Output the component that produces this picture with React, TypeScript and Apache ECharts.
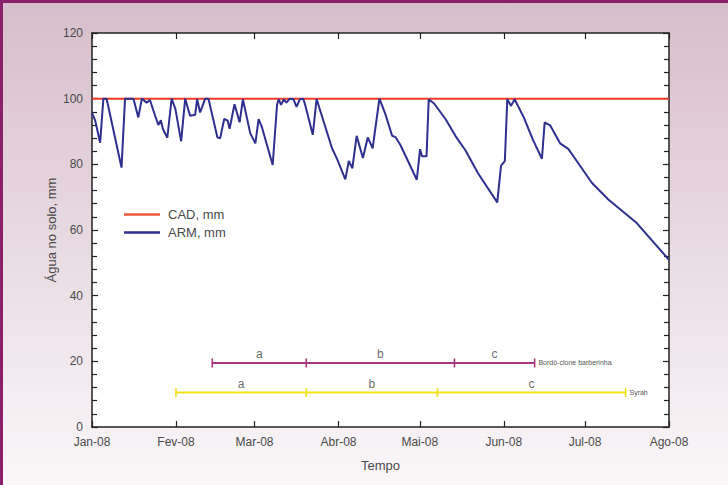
import React, { useEffect, useRef } from "react";
import * as echarts from "echarts";

const monthDays = [0, 31, 60, 91, 121, 152, 182, 213];
const monthLabels = ["Jan-08", "Fev-08", "Mar-08", "Abr-08", "Mai-08", "Jun-08", "Jul-08", "Ago-08"];

const cadDays = [0, 213];
const cadValues = [100, 100];

const armDays = [0, 1.2, 3, 4.2, 5.4, 10.9, 12.2, 15.3, 17.1, 18.4, 20.2, 21.4, 23.3, 24.5, 25.4, 26.2, 27.8, 29.4, 30.8, 32.9, 34.4, 36.2, 38.1, 38.8, 39.9, 41.8, 43, 46.3, 47.3, 48.8, 50.1, 50.8, 52.6, 54.5, 55.7, 58.4, 60.3, 61.5, 62.7, 66.7, 68.3, 68.9, 69.8, 70.8, 71.8, 73, 74.4, 75.5, 76.7, 78, 78.8, 81.5, 82.9, 88.6, 90.5, 93.5, 94.8, 96.1, 97.7, 100, 101.8, 103.6, 106.1, 108.3, 110.8, 112, 113.9, 119.9, 121.1, 121.8, 123.5, 124.3, 126.2, 130.5, 134.2, 137.9, 142.5, 149.6, 151, 152.4, 153.3, 154.7, 156, 159.4, 162.7, 166.1, 167.1, 169.1, 172.8, 175.8, 177.6, 184.5, 190.6, 201.1, 213];
const armValues = [95.7, 93.3, 86.6, 100, 100, 79, 100, 100, 94.3, 100, 98.8, 99.6, 94.8, 92, 93.4, 90.7, 88.1, 100, 96.8, 87, 100, 94.8, 95.1, 99.9, 95.8, 100, 100, 88.2, 87.9, 93.8, 93.3, 90.8, 98.3, 92.8, 99.8, 89.5, 86.4, 93.8, 91.4, 79.8, 98.1, 99.8, 98.1, 99.8, 98.8, 100, 99.8, 97.5, 99.8, 100, 97.8, 89, 99.9, 84.9, 81.6, 75.4, 81, 78.8, 88.7, 81.9, 88.2, 84.9, 100, 95.3, 88.7, 88.3, 85.8, 75.3, 84.6, 82.5, 82.5, 99.8, 98.6, 93.8, 88.6, 84.2, 77.3, 68.4, 79.6, 81, 99.8, 97.8, 99.8, 94.3, 87.6, 81.7, 92.8, 91.9, 86.4, 84.7, 82.6, 74.4, 69.3, 62.1, 50.9];

const phaseLetters = ["a", "b", "c"];
const bordoName = "Bordô-clone barberinha";
const bordoBreaks = [44.4, 79.1, 133.8, 163.4];
const bordoLevel = 19.5;
const syrahName = "Syrah";
const syrahBreaks = [31, 79.1, 127.5, 197];
const syrahLevel = 10.5;

const FONT = "Liberation Sans, Arial, sans-serif";
const TXT = "#4a4a4a";

function phaseSeries(name: string, breaks: number[], level: number, color: string) {
  const data = breaks.map((d, i) =>
    i === breaks.length - 1
      ? {
          value: [d, level],
          label: {
            show: true,
            position: "right",
            distance: 3,
            formatter: name,
            fontSize: 7,
            color: "#555",
            fontFamily: FONT,
          },
        }
      : { value: [d, level] }
  );
  const letters = phaseLetters.map((l, i) => ({
    value: [(breaks[i] + breaks[i + 1]) / 2, level],
    label: { formatter: l },
  }));
  return [
    {
      name,
      type: "line",
      data,
      symbol: "rect",
      symbolSize: [1.6, 9],
      showSymbol: true,
      itemStyle: { color },
      lineStyle: { color, width: 2 },
      z: 3,
    },
    {
      name: name + " fases",
      type: "scatter",
      data: letters,
      symbolSize: 0,
      label: {
        show: true,
        position: "top",
        distance: 3,
        fontSize: 12,
        color: "#444",
        fontFamily: FONT,
      },
      z: 4,
    },
  ];
}

export default function App() {
  const ref = useRef<HTMLDivElement>(null);
  useEffect(() => {
    document.body.style.margin = "0";
    const chart = echarts.init(ref.current!, null, { renderer: "svg" });
    const axisLine = { show: true, onZero: false, lineStyle: { color: "#222", width: 1.5 } };
    const yBase = {
      type: "value",
      min: 0,
      max: 120,
      interval: 20,
      axisLine,
      axisTick: { show: true, inside: true, length: 6, lineStyle: { color: "#222", width: 1.2 } },
      minorTick: { show: true, splitNumber: 5, length: 5, lineStyle: { color: "#222", width: 1.2 } },
      splitLine: { show: false },
    };
    chart.setOption({
      animation: false,
      backgroundColor: new echarts.graphic.LinearGradient(0, 0, 0, 1, [
        { offset: 0, color: "#d7bdcb" },
        { offset: 1, color: "#faf7f9" },
      ]),
      textStyle: { fontFamily: FONT },
      graphic: [
        { type: "rect", left: 0, top: 0, shape: { width: 728, height: 3 }, style: { fill: "#8a1f6b" } },
        { type: "rect", left: 0, top: 0, shape: { width: 3, height: 485 }, style: { fill: "#8a1f6b" } },
      ],
      grid: {
        left: 92,
        right: 59,
        top: 33,
        bottom: 58,
        show: true,
        backgroundColor: "#ffffff",
        borderWidth: 0,
      },
      legend: {
        data: [
          { name: "CAD, mm", icon: "rect" },
          { name: "ARM, mm", icon: "rect" },
        ],
        orient: "vertical",
        left: 119,
        top: 203,
        itemWidth: 36,
        itemHeight: 2.5,
        itemGap: 5,
        textStyle: { fontSize: 13, color: TXT, fontFamily: FONT, padding: [0, 0, 0, 3] },
      },
      xAxis: [
        {
          type: "value",
          min: 0,
          max: 213,
          name: "Tempo",
          nameLocation: "middle",
          nameGap: 32,
          nameMoveOverlap: false,
          nameTextStyle: { fontSize: 13, color: TXT, fontFamily: FONT },
          axisLine,
          axisTick: { show: true, inside: true, length: 6, customValues: monthDays, lineStyle: { color: "#222", width: 1.2 } },
          axisLabel: {
            show: true,
            customValues: monthDays,
            margin: 9,
            fontSize: 12,
            color: TXT,
            fontFamily: FONT,
            formatter: (v: number) => {
              const i = monthDays.indexOf(Math.round(v));
              return i >= 0 ? monthLabels[i] : "";
            },
          },
          splitLine: { show: false },
        },
        {
          type: "value",
          position: "top",
          min: 0,
          max: 213,
          axisLine,
          axisTick: { show: true, inside: true, length: 6, customValues: monthDays, lineStyle: { color: "#222", width: 1.2 } },
          axisLabel: { show: false },
          splitLine: { show: false },
        },
      ],
      yAxis: [
        {
          ...yBase,
          name: "Água no solo, mm",
          nameLocation: "middle",
          nameGap: 34,
          nameMoveOverlap: false,
          nameRotate: 90,
          nameTextStyle: { fontSize: 13, color: TXT, fontFamily: FONT },
          axisLabel: { show: true, fontSize: 12, color: TXT, margin: 9, fontFamily: FONT },
        },
        {
          ...yBase,
          position: "right",
          axisLabel: { show: false },
        },
      ],
      series: [
        {
          name: "CAD, mm",
          type: "line",
          data: cadDays.map((d, i) => [d, cadValues[i]]),
          symbol: "none",
          lineStyle: { color: "#ee3a24", width: 2 },
          itemStyle: { color: "#ee5a3a" },
          z: 2,
        },
        {
          name: "ARM, mm",
          type: "line",
          data: armDays.map((d, i) => [d, armValues[i]]),
          symbol: "none",
          lineStyle: { color: "#2e2f8f", width: 2 },
          itemStyle: { color: "#2e2f8f" },
          z: 3,
        },
        ...phaseSeries(bordoName, bordoBreaks, bordoLevel, "#a8367f"),
        ...phaseSeries(syrahName, syrahBreaks, syrahLevel, "#f2e21a"),
      ],
    });
    return () => chart.dispose();
  }, []);
  return <div ref={ref} style={{ width: 728, height: 485 }} />;
}
